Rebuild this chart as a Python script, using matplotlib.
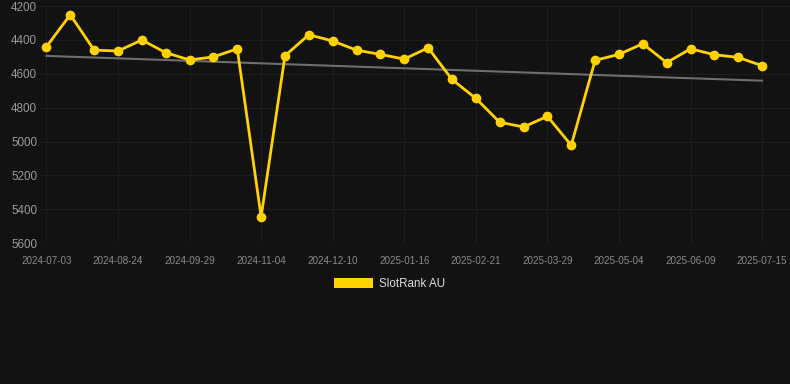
import numpy as np
import matplotlib.pyplot as plt
from matplotlib.patches import Patch

# SlotRank AU position over time (lower is better, axis inverted)
ranks = [4440, 4251, 4460, 4465, 4400, 4475, 4518, 4500, 4452, 5445,
         4493, 4369, 4406, 4460, 4485, 4513, 4446, 4633, 4745, 4886,
         4914, 4851, 5022, 4520, 4485, 4422, 4534, 4452, 4487, 4503,
         4552]
tick_labels = ["2024-07-03", "2024-08-24", "2024-09-29", "2024-11-04",
               "2024-12-10", "2025-01-16", "2025-02-21", "2025-03-29",
               "2025-05-04", "2025-06-09", "2025-07-15"]
y_ticks = [4200, 4400, 4600, 4800, 5000, 5200, 5400, 5600]

bg = "#121212"
gold = "#FFD200"

plt.rcParams['font.family'] = ['Liberation Sans', 'DejaVu Sans']

fig = plt.figure(figsize=(7.9, 3.84), dpi=100, facecolor=bg)
ax = fig.add_axes([0.0506, 0.367, 0.9494, 0.617])
ax.set_facecolor(bg)

x = np.arange(len(ranks))

# trend line (least squares fit)
slope, icpt = np.polyfit(x, ranks, 1)
ax.plot(x, slope * x + icpt, color="#6e6e6e", lw=1.5, zorder=2)

ax.plot(x, ranks, color=gold, lw=2.0, marker="o", markersize=7,
        markeredgewidth=0, zorder=3)

ax.set_ylim(5600, 4200)
ax.set_yticks(y_ticks)
ax.set_xlim(-0.27, 31.17)
ax.set_xticks(x[::3])
ax.set_xticklabels(tick_labels)

ax.tick_params(axis="y", length=0, pad=2, labelsize=8.4, labelcolor="#9a9a9a")
ax.tick_params(axis="x", length=0, pad=9, labelsize=7.1, labelcolor="#8a8a8a")
ax.grid(True, color="#1e1e1e", lw=0.8)
for s in ax.spines.values():
    s.set_visible(False)

handle = Patch(facecolor=gold, edgecolor="none")
fig.legend([handle], ["SlotRank AU"], loc="center", bbox_to_anchor=(0.493, 0.26),
           frameon=False, fontsize=8.4, labelcolor="#dddddd",
           handlelength=3.4, handleheight=1.0, handletextpad=0.5)

fig.savefig("out.png", dpi=100, facecolor=bg)
